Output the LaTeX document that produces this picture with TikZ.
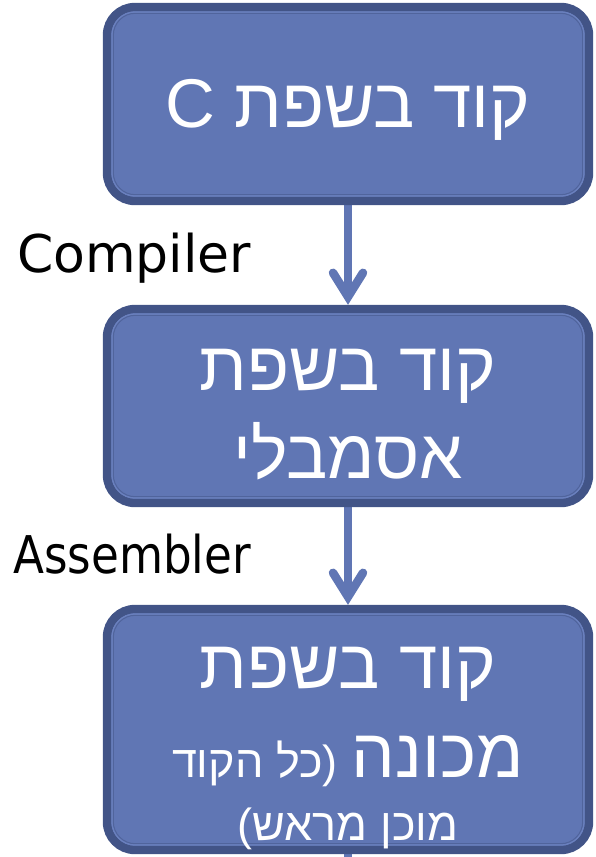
\documentclass[tikz,border=0pt]{standalone}
\usepackage{fontspec}
\usetikzlibrary{arrows.meta}
\TeXXeTstate=1
\newfontfamily\heb[Script=Hebrew]{Liberation Sans}
\newfontfamily\lat{DejaVu Sans}
\definecolor{boxfill}{RGB}{96,118,180}
\definecolor{boxedge}{RGB}{66,84,135}
\definecolor{boxinner}{RGB}{106,128,190}
\definecolor{boxthin}{RGB}{80,100,156}
\pgfdeclarelayer{bg}
\pgfsetlayers{bg,main}
\newcommand\innerlines[1]{%
  \draw[boxedge, line width=8.5pt, rounded corners=28pt]
    (#1.north west) rectangle (#1.south east);
  \draw[boxinner, line width=1.5pt, rounded corners=23pt]
    ([xshift=5pt,yshift=-5pt]#1.north west) rectangle ([xshift=-5pt,yshift=5pt]#1.south east);
  \draw[boxthin, line width=1pt, rounded corners=22pt]
    ([xshift=6.25pt,yshift=-6.25pt]#1.north west) rectangle ([xshift=-6.25pt,yshift=6.25pt]#1.south east);}
\begin{document}
\begin{tikzpicture}[x=1pt,y=-1pt,
  box/.style={fill=boxfill, rounded corners=28pt,
              minimum width=481.5pt, inner sep=0pt},
  conn/.style={draw=boxfill, line width=8.5pt,
               -{Straight Barb[length=24pt,width=30pt,line cap=round]}},
  big/.style={font=\heb\fontsize{69}{84}\selectfont, text=white, anchor=base, inner sep=0pt},
  small/.style={font=\heb\fontsize{45}{52}\selectfont, text=white, anchor=base, inner sep=0pt},
  lbl/.style={font=\lat\fontsize{52}{62}\selectfont, text=black, anchor=base west, inner sep=0pt}]
\useasboundingbox (0,0) rectangle (596,857);
% boxes
\node[box, minimum height=193.5pt] (a) at (348,104) {};
\node[box, minimum height=193.5pt] (b) at (348,406) {};
\node[box, minimum height=240.5pt] (c) at (348,729.5) {};
\innerlines{a}
\innerlines{b}
\innerlines{c}
% connectors (behind the boxes)
\begin{pgfonlayer}{bg}
\draw[conn] (a.south) -- ([yshift=4.25pt]b.north);
\draw[conn] (b.south) -- ([yshift=4.25pt]c.north);
\coordinate (d) at (348,880);
\draw[draw=boxfill, line width=8.5pt] (c.south) -- (d);
\end{pgfonlayer}
% texts
\node[big] (ta) at (348,127) {\beginR קוד בשפת C\endR};
\node[big] (tb1) at (348,390) {\beginR קוד בשפת\endR};
\node[big] (tb2) at (348,478) {\beginR אסמבלי\endR};
\node[big] (tc1) at (348,688) {\beginR קוד בשפת\endR};
\node[big] (tc2) at (348,777) {\beginR מכונה\hspace{14pt}{\fontsize{45}{52}\selectfont (\kern0pt כל הקוד}\endR};
\node[small] (tc3) at (348,840) {\beginR מוכן מראש\kern0pt)\endR};
% labels
\node[lbl] (l1) at (17,272) {Compiler};
\node[lbl] (l2) at (13,573) {\scalebox{0.87}[1]{Assembler}};
\end{tikzpicture}
\end{document}
